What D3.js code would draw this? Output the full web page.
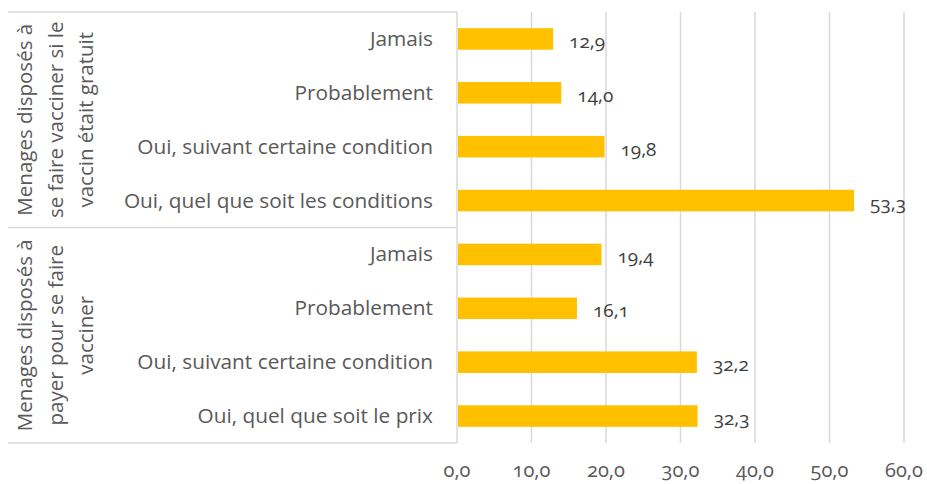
<!DOCTYPE html>
<html>
<head>
<meta charset="utf-8">
<script src="https://cdn.jsdelivr.net/npm/d3@7"></script>
<style>
  body { margin: 0; background: #fff; }
  svg { display: block; }
  .num { font-family: 'Open Sans', Lato, sans-serif; font-variant-numeric: oldstyle-nums; }
  .lab { font-family: 'Open Sans', sans-serif; }
</style>
</head>
<body>
<svg width="927" height="484"></svg>
<script>
// categories top to bottom, grouped by question
const groups = [
  { label: ["Menages disposés à", "se faire vacciner si le", "vaccin était gratuit"], n: 4 },
  { label: ["Menages disposés à", "payer pour se faire", "vacciner"], n: 4 }
]
const categories = [
  "Jamais", "Probablement", "Oui, suivant certaine condition", "Oui, quel que soit les conditions",
  "Jamais", "Probablement", "Oui, suivant certaine condition", "Oui, quel que soit le prix"
]
const values = [12.9, 14.0, 19.8, 53.3, 19.4, 16.1, 32.2, 32.3]
const ticks = [0, 10, 20, 30, 40, 50, 60]

const svg = d3.select("svg")
const plot = { left: 457, right: 904, top: 12, bottom: 443 }
const gridColor = "#d9d9d9"
const textColor = "#595959"
const fmt = v => d3.format(".1f")(v).replace(".", ",")

const keys = categories.map((c, i) => i)
const x = d3.scaleLinear().domain([0, 60]).range([plot.left, plot.right])
const y = d3.scaleBand().domain(keys).range([plot.top, plot.bottom])
  .paddingInner(0.6).paddingOuter(0.3)

// gridlines
svg.append("g").selectAll("line")
  .data(ticks.slice(1))
  .join("line")
    .attr("x1", d => x(d)).attr("x2", d => x(d))
    .attr("y1", plot.top).attr("y2", plot.bottom)
    .attr("stroke", gridColor).attr("stroke-width", 1.5)

// x tick labels
svg.append("g").selectAll("text")
  .data(ticks)
  .join("text")
    .attr("class", "num")
    .attr("x", d => x(d)).attr("y", 477)
    .attr("text-anchor", "middle")
    .attr("fill", textColor)
    .style("font-size", "20px")
    .text(fmt)

// group boundaries of the category axis
const bounds = [plot.top]
let acc = 0
groups.forEach(g => { acc += g.n; bounds.push(plot.top + (plot.bottom - plot.top) * acc / keys.length) })

svg.append("g").selectAll("line")
  .data(bounds)
  .join("line")
    .attr("x1", 8).attr("x2", plot.left)
    .attr("y1", d => d).attr("y2", d => d)
    .attr("stroke", gridColor).attr("stroke-width", 1.5)
svg.append("line")
  .attr("x1", plot.left).attr("x2", plot.left)
  .attr("y1", plot.top).attr("y2", plot.bottom)
  .attr("stroke", gridColor).attr("stroke-width", 1.5)

// bars
svg.append("g").selectAll("rect")
  .data(values)
  .join("rect")
    .attr("x", x(0) + 1)
    .attr("y", (d, i) => y(i))
    .attr("width", d => x(d) - x(0) - 1)
    .attr("height", y.bandwidth())
    .attr("fill", "#ffc000")

// data labels
svg.append("g").selectAll("text")
  .data(values)
  .join("text")
    .attr("class", "num")
    .attr("x", d => x(d) + 16)
    .attr("y", (d, i) => y(i) + y.bandwidth() / 2 + 9)
    .attr("fill", "#404040")
    .style("font-size", "19px")
    .text(fmt)

// category labels
svg.append("g").selectAll("text")
  .data(categories)
  .join("text")
    .attr("class", "lab")
    .attr("x", 433)
    .attr("y", (d, i) => y(i) + y.bandwidth() / 2 + 7)
    .attr("text-anchor", "end")
    .attr("fill", textColor)
    .style("font-size", "20.8px")
    .text(d => d)

// group labels, rotated
groups.forEach((g, gi) => {
  const cy = (bounds[gi] + bounds[gi + 1]) / 2
  const t = svg.append("text")
    .attr("class", "lab")
    .attr("transform", `translate(0,${cy}) rotate(-90)`)
    .attr("text-anchor", "middle")
    .attr("fill", textColor)
    .style("font-size", "20.5px")
  g.label.forEach((line, li) => {
    t.append("tspan").attr("x", 0).attr("y", 32 + li * 30.5).text(line)
  })
})
</script>
</body>
</html>
